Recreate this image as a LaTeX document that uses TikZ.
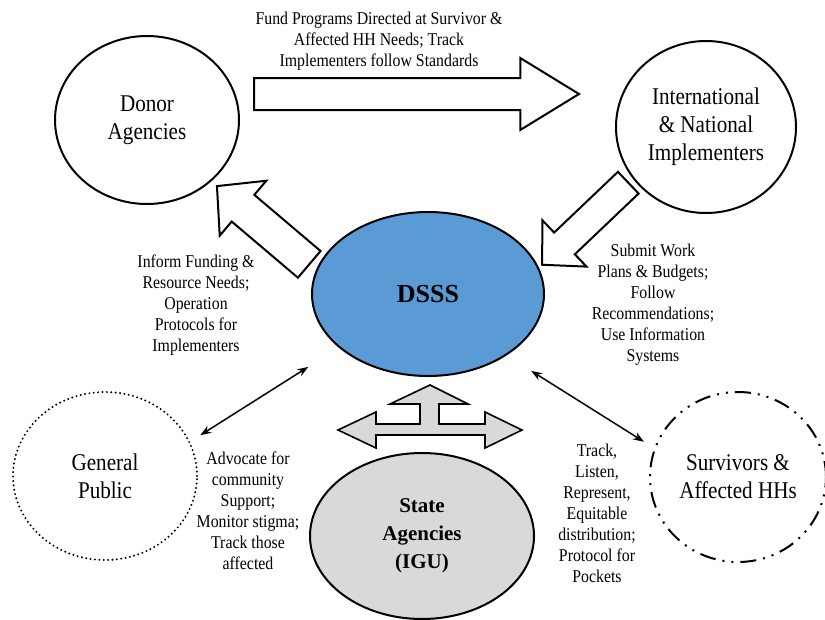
\documentclass[tikz,border=0pt]{standalone}
\usepackage{fontspec}
\setmainfont{Liberation Serif}[FakeStretch=0.88]
\newfontfamily\igufont{Liberation Serif}
\usetikzlibrary{positioning,shapes.geometric,shapes.arrows,arrows.meta}

\definecolor{dsssblue}{RGB}{91,155,213}
\definecolor{igugray}{RGB}{217,217,217}

\tikzset{
	actor/.style={ellipse,draw,line width=2pt,inner sep=0pt,align=center,font=\fontsize{24}{28}\selectfont},
	boldactor/.style={actor,font=\igufont\bfseries\fontsize{21}{28}\selectfont},
	note/.style={align=center,inner sep=0pt,font=\fontsize{18}{21}\selectfont},
	blockarrow/.style={single arrow,draw,fill=white,line width=2pt,inner xsep=0pt,anchor=tail},
	link/.style={{Stealth[length=11pt,width=8pt]}-{Stealth[length=11pt,width=8pt]},line width=1.5pt},
}

\begin{document}
\begin{tikzpicture}[x=1pt,y=-1pt]
	\useasboundingbox (0,0) rectangle (825,619);

	\node[actor,minimum width=184pt,minimum height=168pt] (donor) at (147,120) {Donor\\Agencies};
	\node[actor,minimum width=180pt,minimum height=172pt] (impl) at (706,127) {International\\\& National\\Implementers};
	\node[boldactor,fill=dsssblue,minimum width=232pt,minimum height=164pt,font=\igufont\bfseries\fontsize{26}{30}\selectfont] (dsss) at (428,294) {DSSS};
	\node[actor,line width=2.2pt,line cap=round,dash pattern=on 0pt off 4.4pt,minimum width=184pt,minimum height=168pt] (pub) at (105,476) {General\\Public};
	\node[actor,line width=2pt,dash pattern=on 16pt off 7pt on 2pt off 7pt on 2pt off 7pt,minimum width=176pt,minimum height=170pt] (surv) at (738,477) {Survivors \&\\Affected HHs};
	\node[boldactor,fill=igugray,minimum width=224pt,minimum height=166pt] (igu) at (422,536) {State\\Agencies\\(IGU)};

	\node[blockarrow,minimum height=325pt,minimum width=70pt,inner ysep=15pt,single arrow head extend=20pt,single arrow tip angle=63] (fund) at (253,94) {};
	\node[blockarrow,rotate=139.7,minimum height=121pt,minimum width=70pt,inner ysep=16.5pt,single arrow head extend=18.5pt,single arrow tip angle=93] (inform) at (310,265) {};
	\node[blockarrow,rotate=223.6,minimum height=119pt,minimum width=62pt,inner ysep=14pt,single arrow head extend=17pt,single arrow tip angle=92] (submit) at (629,182) {};

	\coordinate (fork) at (430,430);
	\draw[fill=igugray,line width=1.6pt,shift={(fork)}] (0,-45) -- (38,-26) -- (9,-26) -- (9,-6) -- (55,-6) -- (55,-18) -- (92,0) -- (55,18) -- (55,5) -- (-54,5) -- (-54,18) -- (-92,0) -- (-54,-18) -- (-54,-6) -- (-10,-6) -- (-10,-26) -- (-40,-26) -- cycle;

	\draw[link,shorten <=12pt,shorten >=36pt] (pub.22.6) -- (dsss.211.8);
	\draw[link,shorten <=29pt,shorten >=12pt] (dsss.322.4) -- (surv.161);

	\node[note] (fundnote) at (379,41) {Fund Programs Directed at Survivor \&\\Affected HH Needs; Track\\Implementers follow Standards};
	\node[note] (informnote) at (196,305) {Inform Funding \&\\Resource Needs;\\Operation\\Protocols for\\Implementers};
	\node[note] (submitnote) at (653,305) {Submit Work\\Plans \& Budgets;\\Follow\\Recommendations;\\Use Information\\Systems};
	\node[note] (advnote) at (248,511) {Advocate for\\community\\Support;\\Monitor stigma;\\Track those\\affected};
	\node[note] (tracknote) at (597,513) {Track,\\Listen,\\Represent,\\Equitable\\distribution;\\Protocol for\\Pockets};

\end{tikzpicture}
\end{document}
